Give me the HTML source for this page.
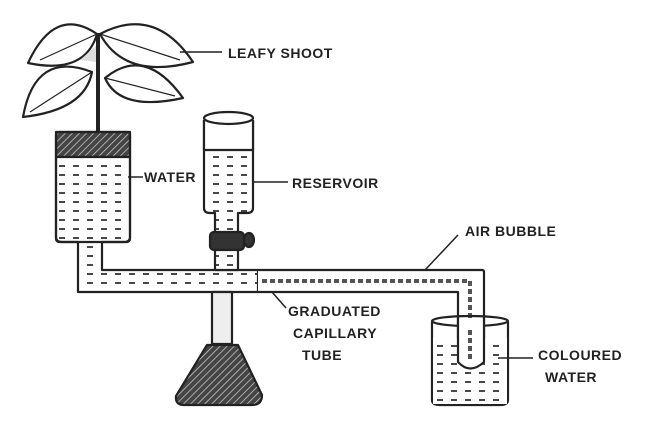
<!DOCTYPE html>
<html><head><meta charset="utf-8"><style>
html,body{margin:0;padding:0;background:#fff}
svg{display:block}
text{font-family:"Liberation Sans",sans-serif;font-size:14px;fill:#222;font-weight:bold;letter-spacing:0.5px}
</style></head><body>
<svg width="656" height="438" viewBox="0 0 656 438" xmlns="http://www.w3.org/2000/svg">
<defs>
<pattern id="hatch" width="5" height="5" patternUnits="userSpaceOnUse" patternTransform="rotate(45)">
<rect width="5" height="5" fill="#444"/><line x1="0" y1="0" x2="0" y2="5" stroke="#ccc" stroke-width="1.5"/>
</pattern>
<pattern id="dash" width="14" height="9" patternUnits="userSpaceOnUse">
<rect width="14" height="9" fill="#fff"/><line x1="3" y1="4" x2="9" y2="4" stroke="#333" stroke-width="1.8"/>
</pattern>
</defs>
<g stroke="#222" stroke-width="2.2" fill="none" stroke-linejoin="round">
<!-- leaves -->
<path d="M97,34 Q55,5 28,63 Q85,75 97,34Z" fill="#fff"/>
<path d="M100,34 Q155,5 193,62 Q125,80 100,34Z" fill="#fff"/>
<path d="M92,72 Q35,50 23,117 Q85,110 92,72Z" fill="#fff"/>
<path d="M105,78 Q145,45 183,98 Q120,112 105,78Z" fill="#fff"/>
<path d="M97,34 L40,60 M100,34 L180,60 M92,72 L30,112 M105,78 L175,96" stroke-width="1.2"/>
<path d="M80,60 L97,45 L97,62Z" fill="#ddd" stroke="none"/>
<!-- stem -->
<line x1="98" y1="33" x2="98" y2="132" stroke-width="4"/>
<!-- pot -->
<rect x="56" y="132" width="74" height="25" fill="url(#hatch)"/>
<path d="M56,157 L56,237 Q56,242 62,242 L78,242 L78,292 L258,292 L258,270 L102,270 L102,242 L124,242 Q130,242 130,237 L130,157Z" fill="url(#dash)"/>
<rect x="56" y="132" width="74" height="110" rx="3"/>
<!-- reservoir -->
<path d="M204,120 L204,208 Q204,213 210,213 L215,213 L215,270 L238,270 L238,213 L247,213 Q253,213 253,208 L253,120" fill="url(#dash)"/>
<path d="M204,120 L204,150 L253,150 L253,120" fill="#fff"/>
<ellipse cx="228.5" cy="118" rx="24.5" ry="6" fill="#fff"/>
<rect x="210" y="232" width="34" height="18" rx="4" fill="#333"/>
<ellipse cx="249" cy="240" rx="5" ry="7" fill="#333"/>
<!-- stand -->
<rect x="212" y="292" width="20" height="52" fill="#eee"/>
<path d="M207,345 L238,345 L262,395 Q262,405 252,405 L184,405 Q175,405 176,396Z" fill="url(#hatch)"/>
<!-- capillary -->
<path d="M258,270 L482,270 Q484,270 484,272 L484,362 Q470,375 458,362 L458,292 L258,292" fill="#fff"/>
<path d="M262,281 L470,281 L470,360" stroke="#555" stroke-width="4" stroke-dasharray="5,3"/>
<!-- beaker -->
<path d="M432,322 L432,400 Q432,405 440,405 L500,405 Q508,405 508,400 L508,322"/>
<rect x="433" y="338" width="74" height="66" fill="url(#dash)" stroke="none"/>
<ellipse cx="470" cy="321" rx="38" ry="5" fill="none"/>
<path d="M458,318 L458,362 Q470,375 484,362 L484,318" fill="#fff"/>
<path d="M470,330 L470,360" stroke="#555" stroke-width="4" stroke-dasharray="5,3"/>
<!-- label lines -->
<line x1="180" y1="52" x2="222" y2="52" stroke-width="1.5"/>
<line x1="128" y1="177" x2="143" y2="177" stroke-width="1.5"/>
<line x1="253" y1="182" x2="288" y2="182" stroke-width="1.5"/>
<line x1="425" y1="270" x2="458" y2="235" stroke-width="1.5"/>
<line x1="272" y1="292" x2="286" y2="308" stroke-width="1.5"/>
<line x1="498" y1="358" x2="533" y2="358" stroke-width="1.5"/>
</g>
<text x="228" y="58">LEAFY SHOOT</text>
<text x="144" y="182">WATER</text>
<text x="292" y="188">RESERVOIR</text>
<text x="465" y="236">AIR BUBBLE</text>
<text x="288" y="316">GRADUATED</text>
<text x="293" y="338">CAPILLARY</text>
<text x="302" y="360">TUBE</text>
<text x="538" y="360">COLOURED</text>
<text x="545" y="382">WATER</text>
</svg>
</body></html>
